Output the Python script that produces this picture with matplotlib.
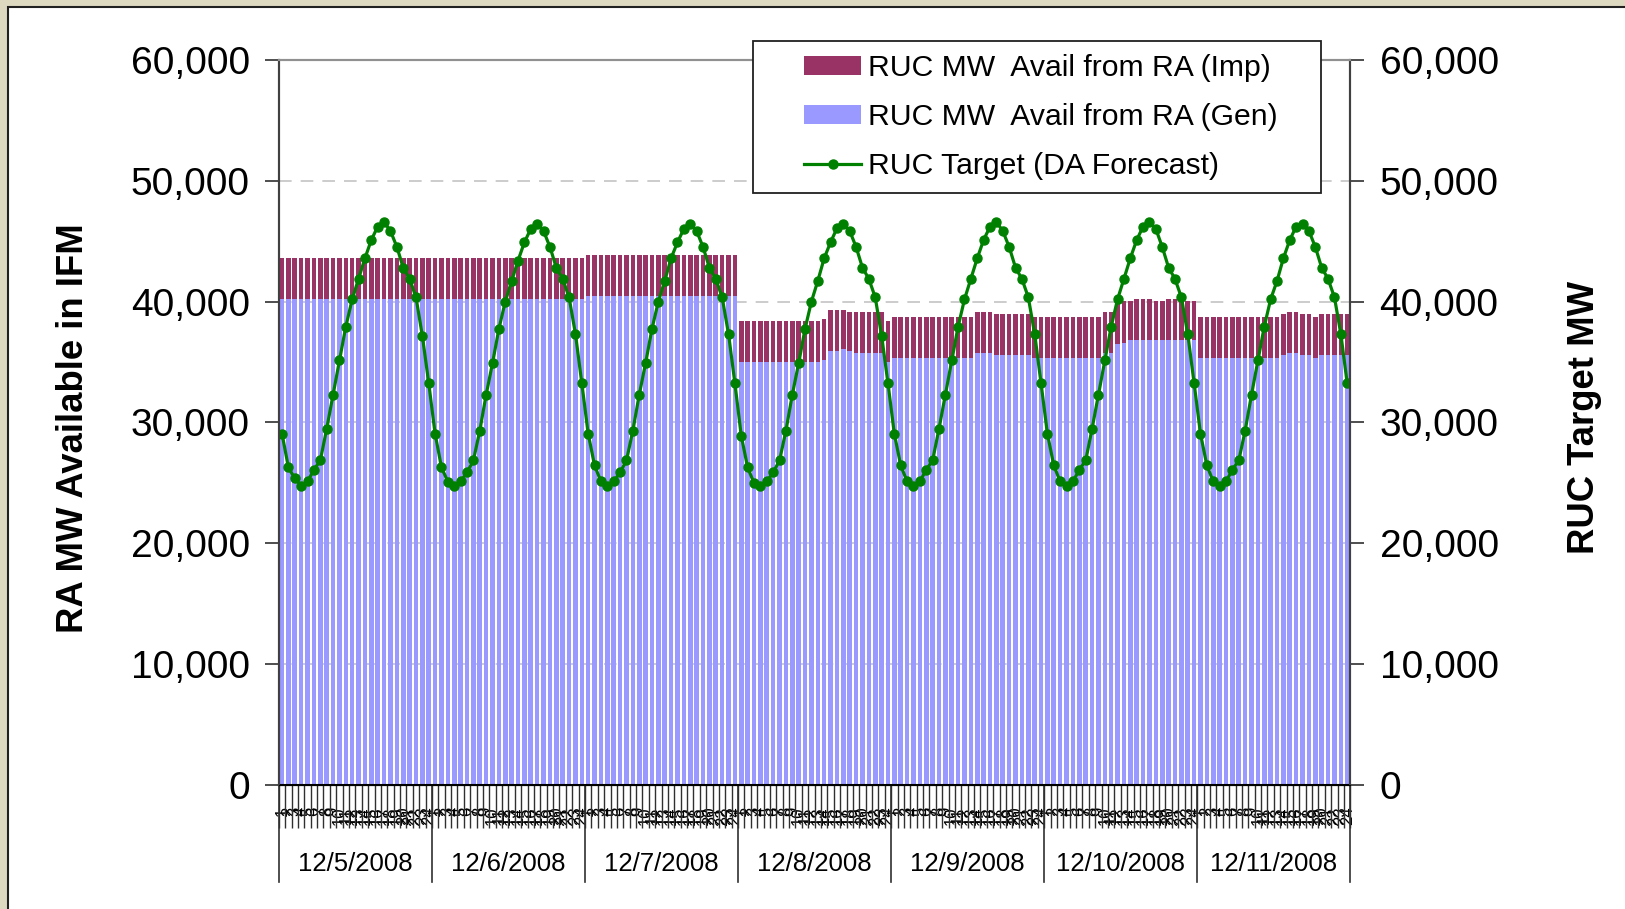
import numpy as np
import matplotlib
matplotlib.use('Agg')
import matplotlib.pyplot as plt
import matplotlib.patches as patches
from matplotlib.ticker import FuncFormatter, FixedLocator

plt.rcParams['font.family'] = ['Liberation Sans', 'DejaVu Sans']

days = ['12/5/2008', '12/6/2008', '12/7/2008', '12/8/2008',
        '12/9/2008', '12/10/2008', '12/11/2008']
hours = [str(h) for h in range(1, 25)]

# RUC MW avail from RA (Gen), hourly per day
gen_d1 = [40200] * 24
gen_d2 = [40200] * 24
gen_d3 = [40470] * 24
gen_d4 = [35030] * 13 + [35170, 35920, 35920, 36080, 35920,
                         35750, 35750, 35750, 35750, 35750, 35030]
gen_d5 = [35340] * 13 + [35750, 35750, 35750, 35580, 35580,
                         35580, 35580, 35580, 35580, 35340, 35340]
gen_d6 = [35340] * 9 + [35750, 35750, 36500, 36600, 36830, 36830, 36830,
                        36830, 36830, 36830, 36830, 36830, 36830, 36830, 36830]
gen_d7 = [35340] * 13 + [35580, 35750, 35750, 35580, 35580,
                         35340, 35580, 35580, 35580, 35580, 35580]

# RUC MW avail from RA (Imp), hourly per day
imp_d1 = [3390] * 24
imp_d2 = [3390] * 24
imp_d3 = [3390] * 24
imp_d4 = [3370] * 13 + [3400, 3390, 3390, 3230, 3230,
                        3400, 3400, 3400, 3400, 3400, 3370]
imp_d5 = [3390] * 13 + [3400, 3400, 3400, 3400, 3400,
                        3400, 3400, 3400, 3400, 3390, 3390]
imp_d6 = [3390] * 9 + [3400, 3400, 3360, 3440, 3200, 3370, 3370,
                       3370, 3200, 3200, 3370, 3370, 3200, 3200, 3200]
imp_d7 = [3390] * 13 + [3400, 3400, 3400, 3400, 3400,
                        3390, 3400, 3400, 3400, 3400, 3400]

# RUC target (DA forecast)
tgt_d1 = [29050, 26260, 25350, 24750, 25100, 26070, 26840, 29460, 32280, 35120, 37930, 40190,
          41880, 43590, 45100, 46210, 46590, 45850, 44530, 42810, 41880, 40360, 37160, 33240]
tgt_d2 = [29050, 26260, 25080, 24700, 25100, 25850, 26840, 29300, 32280, 34900, 37740, 40000,
          41710, 43390, 44910, 46020, 46400, 45850, 44530, 42810, 41880, 40360, 37330, 33240]
tgt_d3 = [29050, 26430, 25100, 24700, 25100, 25850, 26840, 29300, 32280, 34900, 37740, 40000,
          41710, 43590, 44910, 46020, 46400, 45850, 44530, 42810, 41880, 40360, 37330, 33240]
tgt_d4 = [28880, 26260, 24970, 24700, 25100, 25850, 26840, 29300, 32280, 34900, 37740, 40000,
          41710, 43590, 44910, 46070, 46430, 45850, 44530, 42810, 41880, 40360, 37190, 33240]
tgt_d5 = [29050, 26430, 25100, 24750, 25100, 26070, 26840, 29460, 32280, 35120, 37930, 40190,
          41880, 43590, 45100, 46210, 46590, 45850, 44530, 42810, 41880, 40360, 37330, 33240]
tgt_d6 = [29050, 26430, 25100, 24700, 25100, 26070, 26840, 29460, 32280, 35120, 37930, 40190,
          41880, 43590, 45100, 46210, 46590, 46020, 44530, 42810, 41880, 40360, 37330, 33240]
tgt_d7 = [29050, 26430, 25100, 24750, 25100, 26070, 26840, 29300, 32280, 35120, 37930, 40190,
          41710, 43590, 45100, 46210, 46400, 45850, 44530, 42810, 41880, 40360, 37330, 33240]

gen = np.array(gen_d1 + gen_d2 + gen_d3 + gen_d4 + gen_d5 + gen_d6 + gen_d7)
imp = np.array(imp_d1 + imp_d2 + imp_d3 + imp_d4 + imp_d5 + imp_d6 + imp_d7)
tgt = np.array(tgt_d1 + tgt_d2 + tgt_d3 + tgt_d4 + tgt_d5 + tgt_d6 + tgt_d7)
x = np.arange(len(gen))
nh = len(hours)

fig = plt.figure(figsize=(16.25, 9.09), dpi=100)
fig.patch.set_facecolor('#DDD8C0')
# white panel behind everything
panel = patches.Rectangle((8 / 1625, -0.01), 1.0, 1 - 7 / 909 + 0.01,
                          transform=fig.transFigure, facecolor='white',
                          edgecolor='#202020', linewidth=1.5, zorder=-10)
fig.patches.append(panel)

ax = fig.add_axes([0.1716, 0.1369, 0.6594, 0.797])
ax.patch.set_alpha(0)
ax2 = ax.twinx()
ax2.patch.set_alpha(0)

b_gen = ax.bar(x, gen, width=0.72, color='#9999FF', zorder=2)
b_imp = ax.bar(x, imp, bottom=gen, width=0.72, color='#993366', zorder=2)
ln, = ax2.plot(x, tgt, color='#008000', lw=2.3, marker='o', markersize=6.5)

for a in (ax, ax2):
    a.set_ylim(0, 60000)
    a.set_xlim(-0.5, len(x) - 0.5)
    a.yaxis.set_major_locator(FixedLocator(np.arange(0, 60001, 10000)))
    a.yaxis.set_major_formatter(FuncFormatter(lambda v, p: f'{int(v):,}'))

ax.yaxis.grid(True, linestyle=(0, (7, 5)), color='#C8C8C8', lw=1.3, zorder=0)
ax.set_axisbelow(True)

ax.tick_params(axis='y', labelsize=28, length=10, width=1.3, pad=11, color='#404040')
ax2.tick_params(axis='y', labelsize=28, length=10, width=1.3, pad=11, color='#404040')

# x ticks: hours at bar centers, marks at boundaries
ax.set_xticks(x)
ax.set_xticklabels(hours * len(days), rotation=90, fontsize=12, va='top')
ax.set_xticks(np.arange(-0.5, len(x), 1), minor=True)
ax.tick_params(axis='x', which='major', length=0, pad=16)
ax.tick_params(axis='x', which='minor', length=31, width=1.0, color='#303030')
ax2.tick_params(axis='x', which='both', length=0)

for sp in ('left', 'right'):
    for a in (ax, ax2):
        a.spines[sp].set_color('#404040')
        a.spines[sp].set_linewidth(1.5)
ax.spines['bottom'].set_linewidth(1.5)
for a in (ax, ax2):
    a.spines['top'].set_color('#909090')
    a.spines['top'].set_linewidth(1.5)

# day separators and labels
trans = ax.get_xaxis_transform()
for d in range(len(days) + 1):
    ax.plot([d * nh - 0.5] * 2, [0, -0.135], transform=trans, color='#303030',
            lw=1.2, clip_on=False)
for d, lab in enumerate(days):
    ax.text(d * nh + nh / 2 - 0.5, -0.11, lab, transform=trans, ha='center',
            va='center', fontsize=18.5)

ax.set_ylabel('RA MW Available in IFM', fontsize=26.3, fontweight='bold')
ax.yaxis.set_label_coords(-0.175, 0.492)
ax2.set_ylabel('RUC Target MW', fontsize=26.3, fontweight='bold', rotation=90)
ax2.yaxis.set_label_coords(1.202, 0.507)

# legend box (Excel-style, wider padding on the left)
box = patches.Rectangle((0.4426, 0.8166), 0.5303, 0.2094, transform=ax2.transAxes,
                        facecolor='white', edgecolor='#202020', linewidth=1.3,
                        clip_on=False, zorder=9)
ax2.add_patch(box)
leg = ax2.legend([b_imp, b_gen, ln],
                 ['RUC MW  Avail from RA (Imp)', 'RUC MW  Avail from RA (Gen)',
                  'RUC Target (DA Forecast)'],
                 loc='upper left', bbox_to_anchor=(0.490, 1.008), fontsize=21.7,
                 frameon=False, handlelength=1.9, handleheight=0.6,
                 labelspacing=0.69, borderpad=0, handletextpad=0.24,
                 borderaxespad=0)
leg.set_zorder(10)

fig.savefig('out.png', dpi=100, facecolor=fig.get_facecolor())
